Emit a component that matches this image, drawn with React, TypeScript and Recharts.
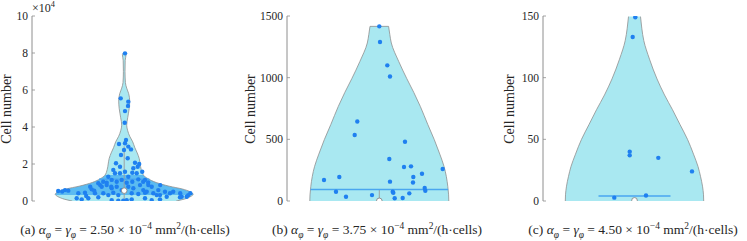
import React from "react";
import { Area, ComposedChart, ReferenceLine, Scatter, XAxis, YAxis } from "recharts";

const FONT = '"Liberation Serif", "DejaVu Serif", serif';
const FILL = "#a9e8f1";
const BAND = "#5bbbf1";
const DOT = "#1f80f0";
const EDGE = "#8e8e8e";
const MEAN = "#4aa6f0";
const INK = "#262626";

// (a) alpha = gamma = 2.50e-4 : violin profile (cell number, half width) and jittered samples
const levelsA = [0, 1000, 2000, 3200, 3500, 5000, 6500, 8000, 10000, 12000, 13800, 17000, 20000, 23000, 26000, 29000, 32000, 35000, 38000, 41000, 45000, 50000, 54000, 58000, 61000, 64000, 70000, 76000, 79000, 80300];
const widthsA = [52, 60, 65, 68.5, 69, 66, 58, 45, 32, 24, 19.5, 17, 16, 15, 13, 10.5, 8.5, 5.5, 3.5, 2.5, 3.5, 5, 5.5, 4.5, 2.5, 1.2, 0.8, 1, 1.8, 0];
const samplesA = [
  [0.8, 79800], [-3.5, 55500], [4.1, 53700], [3.8, 51400], [0.8, 48600], [0.5, 42300], [1.8, 33000], [-5.2, 30800],
  [0.8, 31200], [4.1, 29400], [-0.2, 27600], [6.8, 27900], [-3.2, 24900], [3.5, 23100], [-8.2, 20400], [-4.2, 18500],
  [10.8, 20700], [13.5, 18500], [9.1, 17700], [15, 20000], [18, 15800], [-10.9, 16800], [-9.2, 15000], [-4.2, 15000],
  [0.8, 15800], [4.1, 13100], [8.1, 15300], [12.5, 15000], [-15.9, 13100], [-12.5, 11400], [-7.5, 10400], [-2.5, 11400],
  [2.5, 9900], [8.1, 10400], [14.1, 11700], [20.8, 11400], [24.1, 8600], [-25.9, 9600], [-22.5, 7700], [-17.5, 8600],
  [-12.5, 6900], [-7.5, 7700], [-2.5, 5900], [4.1, 7700], [9.1, 6900], [15.8, 8600], [19.1, 5900], [27.5, 7700],
  [34.1, 5900], [-59.2, 5900], [-55.9, 5600], [-45.9, 4200], [-39.2, 4500], [-32.5, 6300], [-29.2, 4200], [-20.9, 4200],
  [-15.9, 3200], [-10.9, 4500], [-5.9, 3200], [7.5, 4200], [14.1, 3800], [20.8, 4500], [29.1, 4200], [35.8, 3200],
  [40.8, 5000], [45.8, 4200], [57.5, 2300], [64.1, 3200], [-47.5, 1500], [-35.9, 1500], [-25.9, 2000], [-12.5, 500],
  [-5.9, 200], [-0.9, 100], [2.5, 500], [7.5, 900], [20.8, 1500], [27.5, 500], [35.8, 900], [55.8, 2000],
  [-66, 5400], [-62, 5100], [62.5, 2300], [66.1, 4200], [-42.5, 900], [-38, 2700], [-34, 7700], [-30, 5600],
  [-24, 8600], [-21, 10400], [-17.5, 9900], [-13, 7700], [19, 10400], [24, 10000], [36, 8600], [22.5, 5000],
  [32.5, 3200], [42.5, 2300], [49, 5000], [56, 4200],
];
const quartilesA = [3200, 13800];
const meanA = 11700;
const medianA = 5600;
const whiskerA = [0, 29500];

// (b) alpha = gamma = 3.75e-4
const levelsB = [0, 50, 118, 200, 281, 380, 497, 620, 767, 880, 992, 1130, 1281, 1350, 1416];
const widthsB = [69.5, 69.3, 68.5, 67, 64.7, 60.5, 55, 48.5, 41, 34.5, 27.5, 19.5, 12, 10.5, 9.3];
const samplesB = [
  [0, 1416], [0.7, 1289], [8, 1100], [10.7, 1010], [-22, 645], [-24.6, 535], [25.7, 481], [10, 340],
  [-55.3, 170], [-40, 195], [-43.3, 75], [-33.3, 35], [-7.3, 48], [10.7, 157], [13.4, 75], [14, 67],
  [15.4, 22], [23.4, 24], [24.7, 276], [31.7, 281], [34, 195], [33.7, 150], [30, 62], [42.7, 221],
  [45.4, 105], [46, 83], [63.4, 260],
];
const meanB = 94;
const medianB = 1;
const whiskerB = [0, 94];

// (c) alpha = gamma = 4.50e-4
const levelsC = [0, 5, 12, 20, 28, 38, 50, 62, 74, 86, 99, 115, 130, 140, 149.5];
const widthsC = [69.2, 69, 68, 66, 63.5, 59, 53, 45.5, 38, 30, 22.5, 15, 9.3, 7.3, 6];
const samplesC = [
  [0.8, 149], [-1.8, 133], [-4.8, 40], [-4.8, 37], [23.8, 35], [57.5, 24], [11.5, 4.5], [-20.2, 2.7],
];
const meanC = 4;
const meanHalfC = 36;
const medianC = 0.5;

const ticksA = [0, 20000, 40000, 60000, 80000, 100000];
const ticksB = [0, 500, 1000, 1500];
const ticksC = [0, 50, 100, 150];

const H = 241;
const TOP = 16;
const BOTTOM = 201;

type Spec = {
  id: string;
  left: number;
  width: number;
  plotLeft: number;
  plotRight: number;
  xDomain: [number, number];
  yMax: number;
  ticks: number[];
  fmt: (v: number) => string;
  levels: number[];
  widths: number[];
  samples: number[][];
  quartiles?: number[];
  mean: number;
  meanHalf: number;
  median: number;
  whisker?: number[];
  cap?: boolean;
  labelX: number;
  captionX: number;
  caption: React.ReactNode;
};

function widthAt(levels: number[], widths: number[], v: number) {
  for (let i = 1; i < levels.length; i++) {
    if (v <= levels[i]) {
      const t = (v - levels[i - 1]) / (levels[i] - levels[i - 1]);
      return widths[i - 1] + t * (widths[i] - widths[i - 1]);
    }
  }
  return widths[widths.length - 1];
}

const small: React.CSSProperties = { fontSize: "70%", lineHeight: 0 };

const Greek = ({ c }: { c: string }) => (
  <>
    <i>{c}</i>
    <sub style={small}><i>φ</i></sub>
  </>
);

function Caption({ tag, value }: { tag: string; value: string }) {
  return (
    <span>
      ({tag}) <Greek c="α" /> = <Greek c="γ" /> = {value} × 10<sup style={small}>−4</sup> mm<sup style={small}>2</sup>/(h·cells)
    </span>
  );
}

function Panel({ s }: { s: Spec }) {
  const rows = s.levels.map((v, i) => ({ v, span: [-s.widths[i], s.widths[i]] }));
  const dots = s.samples.map(([x, v]) => ({ x, v }));
  const med = [{ x: 0, v: s.median }];
  const topV = s.levels[s.levels.length - 1];
  const topW = s.widths[s.widths.length - 1];
  // interquartile band drawn as a hard-stop gradient over the violin's own bounding box
  const q = s.quartiles;
  const off = (v: number) => (topV - v) / (topV - s.levels[0]);
  const gradId = `violin-${s.id}`;

  const leftTick = (p: any) => (
    <g>
      <line x1={p.x} x2={p.x + 3} y1={p.y} y2={p.y} stroke={EDGE} strokeWidth={0.8} />
      <text x={p.x - 4} y={p.y} dy="0.36em" textAnchor="end" fontSize={11.5} fontFamily={FONT} fill={INK}>
        {s.fmt(p.payload.value)}
      </text>
    </g>
  );
  const rightTick = (p: any) => (
    <line x1={p.x - 3} x2={p.x} y1={p.y} y2={p.y} stroke={EDGE} strokeWidth={0.8} />
  );

  return (
    <>
      <div style={{ position: "absolute", left: s.left, top: 0 }}>
        <ComposedChart
          width={s.width}
          height={H}
          data={rows}
          layout="vertical"
          margin={{ top: TOP, right: s.left + s.width - s.plotRight, bottom: H - BOTTOM, left: 0 }}
        >
          <defs>
            <linearGradient id={gradId} x1="0" y1="0" x2="0" y2="1">
              {q ? (
                <>
                  <stop offset={0} stopColor={FILL} />
                  <stop offset={off(q[1])} stopColor={FILL} />
                  <stop offset={off(q[1])} stopColor={BAND} />
                  <stop offset={off(q[0])} stopColor={BAND} />
                  <stop offset={off(q[0])} stopColor={FILL} />
                  <stop offset={1} stopColor={FILL} />
                </>
              ) : (
                <>
                  <stop offset={0} stopColor={FILL} />
                  <stop offset={1} stopColor={FILL} />
                </>
              )}
            </linearGradient>
          </defs>
          <XAxis type="number" dataKey="x" domain={s.xDomain} allowDataOverflow height={0} tick={false} tickLine={false} axisLine={{ stroke: EDGE }} />
          <XAxis xAxisId="top" orientation="top" type="number" dataKey="x" domain={s.xDomain} allowDataOverflow height={0} tick={false} tickLine={false} axisLine={{ stroke: EDGE }} />
          <YAxis type="number" dataKey="v" reversed domain={[0, s.yMax]} ticks={s.ticks} interval={0} allowDataOverflow width={s.plotLeft - s.left} axisLine={{ stroke: EDGE }} tickLine={false} tickSize={0} tickMargin={0} tick={leftTick} />
          <YAxis yAxisId="r" orientation="right" type="number" dataKey="v" reversed domain={[0, s.yMax]} ticks={s.ticks} interval={0} allowDataOverflow width={0} axisLine={{ stroke: EDGE }} tickLine={false} tickSize={0} tickMargin={0} tick={rightTick} />
          <Area dataKey="span" type="monotone" fill={`url(#${gradId})`} fillOpacity={1} stroke={EDGE} strokeWidth={0.8} isAnimationActive={false} />
          {s.cap && (
            <ReferenceLine segment={[{ x: -topW, y: topV }, { x: topW, y: topV }]} stroke={EDGE} strokeWidth={0.8} />
          )}
          {s.whisker && (
            <ReferenceLine segment={[{ x: 0, y: s.whisker[0] }, { x: 0, y: s.whisker[1] }]} stroke="#9a9a9a" strokeWidth={0.9} />
          )}
          <Scatter
            data={dots}
            isAnimationActive={false}
            shape={(p: any) => <circle cx={p.cx} cy={p.cy} r={2.2} fill={DOT} />}
          />
          <ReferenceLine segment={[{ x: -s.meanHalf, y: s.mean }, { x: s.meanHalf, y: s.mean }]} stroke={MEAN} strokeWidth={1.5} />
          <Scatter
            data={med}
            isAnimationActive={false}
            shape={(p: any) => <circle cx={p.cx} cy={p.cy} r={2.8} fill="#ffffff" stroke="#7a7a7a" strokeWidth={0.8} />}
          />
        </ComposedChart>
      </div>
      <div
        style={{
          position: "absolute",
          left: s.labelX - 60,
          top: (TOP + BOTTOM) / 2 - 9,
          width: 120,
          height: 18,
          lineHeight: "18px",
          textAlign: "center",
          transform: "rotate(-90deg)",
          fontSize: 14,
          color: INK,
          whiteSpace: "nowrap",
        }}
      >
        Cell number
      </div>
      <div
        style={{
          position: "absolute",
          left: s.captionX - 130,
          top: 222,
          width: 260,
          textAlign: "center",
          fontSize: 13.5,
          color: INK,
          whiteSpace: "nowrap",
          lineHeight: "16px",
        }}
      >
        {s.caption}
      </div>
    </>
  );
}

const specs: Spec[] = [
  {
    id: "a", left: 0, width: 230, plotLeft: 32, plotRight: 217, xDomain: [-92.2, 92.8], yMax: 100000, ticks: ticksA,
    fmt: (v) => String(v / 10000), levels: levelsA, widths: widthsA, samples: samplesA, quartiles: quartilesA,
    mean: meanA, meanHalf: widthAt(levelsA, widthsA, meanA), median: medianA, whisker: whiskerA,
    labelX: 7, captionX: 125, caption: <Caption tag="a" value="2.50" />,
  },
  {
    id: "b", left: 245, width: 245, plotLeft: 287, plotRight: 480, xDomain: [-92.3, 100.7], yMax: 1500, ticks: ticksB,
    fmt: (v) => String(v), levels: levelsB, widths: widthsB, samples: samplesB,
    mean: meanB, meanHalf: widthAt(levelsB, widthsB, meanB), median: medianB, whisker: whiskerB, cap: true,
    labelX: 251, captionX: 377, caption: <Caption tag="b" value="3.75" />,
  },
  {
    id: "c", left: 495, width: 245, plotLeft: 543, plotRight: 727, xDomain: [-91.5, 92.5], yMax: 150, ticks: ticksC,
    fmt: (v) => String(v), levels: levelsC, widths: widthsC, samples: samplesC,
    mean: meanC, meanHalf: meanHalfC, median: medianC,
    labelX: 510, captionX: 633, caption: <Caption tag="c" value="4.50" />,
  },
];

export default function App() {
  return (
    <div style={{ position: "absolute", left: 0, top: 0, width: 747, height: H, background: "#fff", fontFamily: FONT, overflow: "hidden" }}>
      {specs.map((s) => (
        <Panel key={s.id} s={s} />
      ))}
      <div style={{ position: "absolute", left: 32, top: 1, fontSize: 12, color: INK, lineHeight: "14px", whiteSpace: "nowrap" }}>
        ×10<sup style={small}>4</sup>
      </div>
    </div>
  );
}
